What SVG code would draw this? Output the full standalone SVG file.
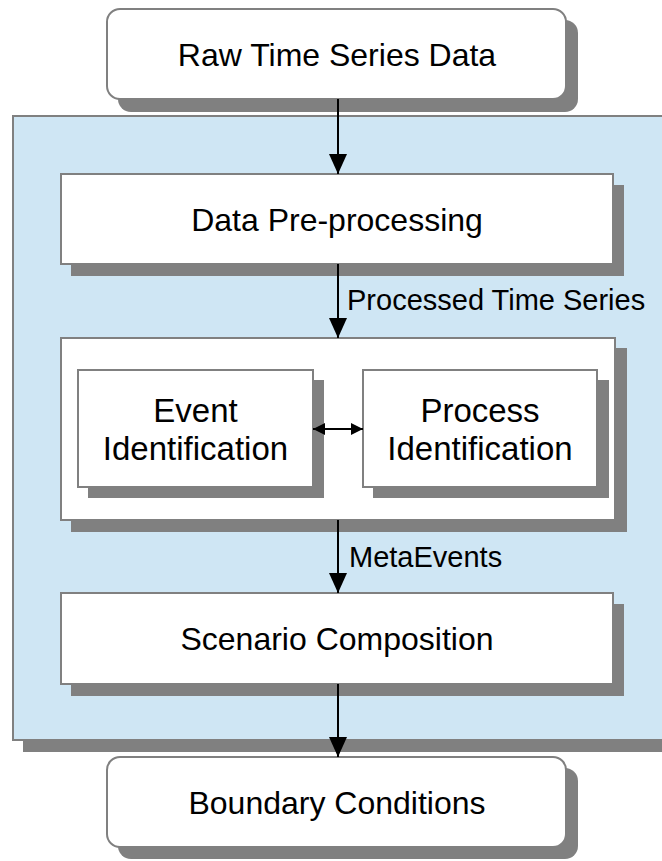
<svg xmlns="http://www.w3.org/2000/svg" width="662" height="861" viewBox="0 0 662 861">
  <style>
    .shadow { fill: #808080; }
    .box { fill: #ffffff; stroke: #808080; stroke-width: 2; }
    .panel { fill: #cfe6f4; stroke: #808080; stroke-width: 2; }
    .txt { font-family: "Liberation Sans", Arial, sans-serif; font-size: 32px; fill: #000; text-anchor: middle; }
    .sub { font-size: 33px; }
    .lbl { font-family: "Liberation Sans", Arial, sans-serif; font-size: 29px; fill: #000; }
    .conn { stroke: #000; stroke-width: 2; fill: none; }
  </style>
  <defs>
    <marker id="arrow" markerUnits="userSpaceOnUse" markerWidth="20" markerHeight="18" refX="20" refY="9" orient="auto" viewBox="0 0 20 18">
      <path d="M0,0 L20,9 L0,18 Z" fill="#000"/>
    </marker>
    <marker id="arrowSmall" markerUnits="userSpaceOnUse" markerWidth="12" markerHeight="12" refX="12" refY="6" orient="auto-start-reverse" viewBox="0 0 12 12">
      <path d="M0,0 L12,6 L0,12 Z" fill="#000"/>
    </marker>
  </defs>

  <!-- processing stage container -->
  <g id="panel">
    <rect class="shadow" x="23" y="127" width="680" height="625"/>
    <rect class="panel" x="13" y="116" width="680" height="624"/>
  </g>

  <g id="raw-data">
    <rect class="shadow" x="118" y="20" width="460" height="92" rx="13"/>
    <rect class="box" x="107" y="9" width="459" height="90" rx="13"/>
    <text class="txt" x="337" y="65.5">Raw Time Series Data</text>
  </g>

  <g id="preprocessing">
    <rect class="shadow" x="71" y="185" width="553" height="91"/>
    <rect class="box" x="61" y="174" width="552" height="90"/>
    <text class="txt" x="337" y="230.5">Data Pre-processing</text>
  </g>

  <g id="identification">
    <rect class="shadow" x="71" y="348" width="556" height="184"/>
    <rect class="box" x="61" y="338" width="554" height="182"/>
  </g>

  <g id="event-identification">
    <rect class="shadow" x="88" y="380" width="236" height="118"/>
    <rect class="box" x="78" y="370" width="235" height="117"/>
    <text class="txt sub" x="195.5" y="422">Event</text>
    <text class="txt sub" x="195.5" y="460">Identification</text>
  </g>

  <g id="process-identification">
    <rect class="shadow" x="373" y="380" width="236" height="118"/>
    <rect class="box" x="363" y="370" width="234" height="117"/>
    <text class="txt sub" x="480" y="422">Process</text>
    <text class="txt sub" x="480" y="460">Identification</text>
  </g>

  <g id="scenario-composition">
    <rect class="shadow" x="71" y="604" width="553" height="92"/>
    <rect class="box" x="61" y="593" width="552" height="91"/>
    <text class="txt" x="337" y="650">Scenario Composition</text>
  </g>

  <g id="boundary-conditions">
    <rect class="shadow" x="118" y="768" width="460" height="91" rx="13"/>
    <rect class="box" x="107" y="757" width="459" height="90" rx="13"/>
    <text class="txt" x="337" y="814">Boundary Conditions</text>
  </g>

  <g id="connectors">
    <line class="conn" x1="338" y1="99" x2="338" y2="174" marker-end="url(#arrow)"/>
    <line class="conn" x1="338" y1="264" x2="338" y2="338" marker-end="url(#arrow)"/>
    <text class="lbl" x="347" y="310">Processed Time Series</text>
    <line class="conn" x1="313" y1="429" x2="363" y2="429" marker-start="url(#arrowSmall)" marker-end="url(#arrowSmall)"/>
    <line class="conn" x1="338" y1="520" x2="338" y2="593" marker-end="url(#arrow)"/>
    <text class="lbl" x="349" y="567">MetaEvents</text>
    <line class="conn" x1="338" y1="684" x2="338" y2="757" marker-end="url(#arrow)"/>
  </g>
</svg>
